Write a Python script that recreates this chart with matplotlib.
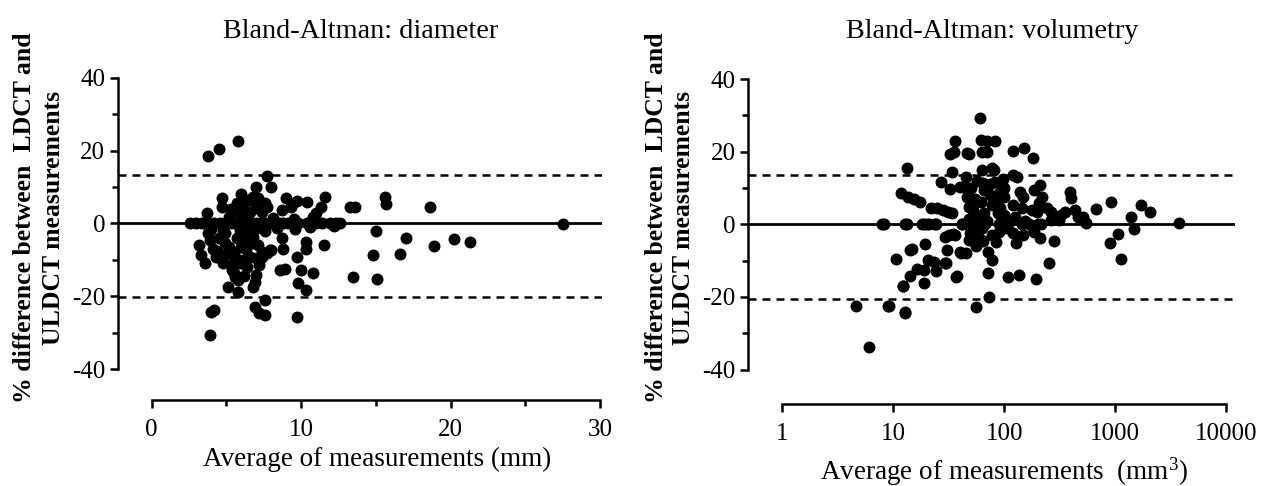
import numpy as np
import matplotlib
matplotlib.use('Agg')
import matplotlib.pyplot as plt
from matplotlib.ticker import FixedLocator, NullLocator

plt.rcParams['font.family'] = ['Liberation Serif', 'DejaVu Serif']
plt.rcParams['mathtext.fontset'] = 'custom'
plt.rcParams['mathtext.rm'] = 'Liberation Serif'
plt.rcParams['mathtext.default'] = 'regular'
plt.rcParams['axes.unicode_minus'] = False

# 直径:平均值(mm) 与 百分比差异(%)
diam_x = [2.6, 3.0, 3.4, 3.8, 4.2, 4.6, 5.0, 5.4, 5.8, 6.1, 6.4, 6.7, 7.0, 7.3, 7.6, 7.9, 8.2, 8.5,
          8.8, 9.1, 9.4, 9.8, 10.4, 11.0, 11.4, 11.9, 12.3, 12.6, 27.5,
          3.8, 4.5, 5.75, 7.7, 7.0, 8.0,
          4.7, 4.7, 3.7, 5.7, 6.1, 6.5, 6.8, 7.1, 7.6, 7.7, 5.9, 6.2, 6.6, 7.0, 7.4, 9.0, 9.7,
          10.4, 8.7, 9.3, 11.6, 11.3, 11.0, 10.8, 13.3, 13.6, 15.6, 15.7, 18.6, 6.3, 5.2, 8.1,
          9.5, 6.0, 5.3,
          4.0, 4.8, 6.9, 7.6, 8.4, 9.6, 10.6, 12.2,
          3.2, 3.3, 3.6, 3.8, 3.9, 4.1, 4.3, 4.7, 4.8, 4.9, 4.9, 5.2, 5.5, 5.6, 5.35, 5.5, 5.6,
          5.1, 5.8, 5.9, 6.1, 6.5, 6.8, 7.1, 7.4, 7.7, 7.9, 6.6, 6.1, 5.9, 7.0, 7.4, 8.0, 8.8,
          8.7, 7.0, 6.9, 6.8, 8.6, 8.9, 9.7, 10.0, 10.3, 10.3, 10.8, 11.5, 9.8, 10.3, 9.7, 6.9,
          7.2, 7.6, 7.6, 4.0, 4.2, 3.9, 5.0, 5.3, 6.3, 6.4, 6.7, 5.7, 4.5, 6.2, 7.2, 6.0, 4.4,
          5.8,
          15.0, 17.0, 14.8, 16.6, 18.9, 20.2, 21.3, 13.5, 15.1]
diam_y = [0, 0, 0, 0, 0, 0, 0, 0, 0, 0, 0, 0, 0, 0, 0, 0, 0, 0,
          0, 0, 0, 0, 0, 0, 0, 0, 0, 0, -0.2,
          18.6, 20.3, 22.6, 13.1, 10.1, 10.1,
          6.9, 4.6, 2.8, 5.5, 5.5, 6.4, 7.3, 6.9, 5.5, 4.6, 2.7, 3.7, 3.2, 4.1, 3.2, 6.9, 6.2,
          5.9, 3.7, 4.6, 7.2, 4.6, 2.9, 1.8, 4.6, 4.6, 7.3, 5.3, 4.4, 1.5, 1.8, 1.6,
          1.2, 8.0, 4.0,
          -1.5, -1.8, -1.5, -2.0, -1.2, -1.5, -1.0, -0.8,
          -6.0, -8.7, -10.8, -2.7, -4.6, -6.9, -9.2, -10.0, -10.8, -2.7, -5.5, -6.4, -7.8, -9.2,
          -12.8, -13.7, -14.7,
          -17.4, -18.8, -1.9, -4.6, -2.7, -3.7, -6.0, -7.8, -8.2, -7.3, -9.2, -10.0, -11.0, -9.6,
          -9.2, -7.3, -6.9,
          -4.1, -14.2, -16.0, -17.4, -12.8, -12.4, -9.2, -12.8, -5.0, -6.9, -13.7, -6.0, -16.5,
          -18.3, -25.6, -22.9,
          -24.7, -25.2, -21.1, -24.3, -23.8, -30.7, -8.5, -11.5, -7.0, -12.0, -5.5, -4.0, -4.0,
          -14.5, -11.5, -6.5, -7.5,
          -15.5,
          -2.0, -4.1, -8.7, -8.4, -6.2, -4.4, -5.0, -14.8, -15.3]

# 体积:平均值(mm3) 与 百分比差异(%)
vol_x = [4.6, 6.1, 8.2, 9.1, 10.6, 11.7, 13.2, 13.3, 12.3, 12.7, 14.9, 14.3, 16.4,
         13.7, 15.4, 17.3, 19.2, 18.9, 20.7, 18.9, 20.9, 24.0, 21.7, 24.6, 24.2, 26.7,
         28.2, 31.2, 33.8, 29.9, 30.5, 29.5, 33.7, 36.3, 32.6, 35.0, 32.6, 37.5, 40.9,
         31.6, 34.9, 41.5, 46.0, 43.0, 46.0, 47.7, 47.7, 60.8, 48.4, 62.1, 69.6, 83.4,
         62.8, 69.9, 62.8, 77.4, 40.0, 44.6,
         8.0, 12.9, 18.3, 20.3, 24.2, 41.5, 51.1, 67.8, 89.4, 109, 145, 168, 200,
         36.3, 49.0, 14.1, 23.4, 29.5, 40.0, 12.2, 18.9, 36.5, 8.9, 12.8,
         70.8, 77.4, 72.0, 73.2, 55.4,
         119, 152, 180, 80.2, 121, 130, 83.4, 65.2, 74.6, 89.4, 99.0, 138, 148, 184, 212,
         220, 205, 245, 262, 178, 198, 121, 145, 77.4,
         389, 403, 431, 351, 327, 462, 513, 550, 262, 312, 676, 910, 1718, 2040, 1395,
         1466, 3750, 891, 1057, 1133, 212, 278, 253, 128, 121, 148, 184, 107, 137, 194,
         50, 55, 52, 58, 62, 66, 70, 75, 88, 95, 100, 55, 60, 78, 90, 105, 48, 57, 65, 82,
         92, 98, 45, 56, 63, 85, 100, 125, 155, 180, 215, 45, 65]
vol_y = [-22.5, -33.7, 0, -22.5, -9.6, 8.7, 15.4, 0, -17.0, -24.4, -6.9, -14.2, -12.4,
         7.6, 6.9, 6.0, -5.5, -16.3, -9.8, 0, 0, 0, 4.6, 4.4, -13.0, 11.7,
         3.8, 3.4, 3.0, -10.7, -7.1, -3.4, 14.5, 22.8, 19.4, 20.0, 9.6, -14.2, -7.8,
         -2.9, -2.7, 0, 19.5, 10.4, 7.6, 4.8, -4.3, 29.2, 19.4, 23.2, 22.8, 22.8,
         20.0, 20.0, 15.0, 15.4, 10.4, 10.4,
         0, 0, 0, 0, 0, 0, 0, 0, 0, 0, 0, 0, 0,
         -3.0, -2.5, -7.1, -10.3, -10.6, -7.5, -16.9, -12.6, -14.4, -22.5, -24.1,
         -7.5, -9.8, -13.3, -20.1, -22.9,
         20.3, 20.9, 18.3, 15.0, 13.6, 12.9, 11.7, 9.4, 8.1, 8.5, 7.6, 9.0, 7.6, 9.4, 10.8,
         7.6, 5.8, 4.4, 3.5, 3.9, 3.5, 5.3, 4.4, 5.3,
         9.0, 7.2, 3.9, 3.5, 2.6, 2.1, 2.1, 0.3, 1.2, 1.2, 4.1, 6.1, 5.3, 3.5, 2.1,
         -1.4, 0.3, -5.1, -2.7, -9.6, -3.7, -4.6, -10.7, -5.2, -2.5, -2.9, -2.0, -14.4, -14.0,
         -15.2,
         10.0, 7.0, 4.0, 2.0, 6.0, 3.0, 1.0, 11.0, 3.0, 1.5, 10.0, -2.0, -4.0, -3.0, -2.0,
         -1.0, 1.5, 12.0, 11.5, 6.0, 4.5, 12.5, 13.0, -6.0, -1.0, -5.0, 2.5, 2.0, 1.0, -1.0,
         0.0, -8.0, -4.5]

diam_loa = [13.3, -20.3]
vol_loa = [13.5, -20.5]


def style_axis(ax, xbounds):
    for s in ['top', 'right']:
        ax.spines[s].set_visible(False)
    for s in ['left', 'bottom']:
        ax.spines[s].set_linewidth(1.8)
    ax.spines['left'].set_bounds(-40, 40)
    ax.spines['bottom'].set_bounds(*xbounds)
    ax.yaxis.set_major_locator(FixedLocator([-40, -20, 0, 20, 40]))
    ax.yaxis.set_minor_locator(FixedLocator([-30, -10, 10, 30]))
    ax.tick_params(which='major', length=6, width=1.8, labelsize=18, direction='out')
    ax.tick_params(which='minor', length=4, width=1.8, direction='out')
    ax.tick_params(axis='x', pad=8)
    ax.tick_params(axis='y', pad=3)


def draw_panel(ax, x, y, loa):
    ax.axhline(0, color='black', lw=2.0, zorder=2)
    for v in loa:
        ax.axhline(v, color='black', lw=1.8, dashes=(3.2, 2.4), zorder=2)
    ax.plot(x, y, 'o', color='black', ms=7.6, mec='black', zorder=3)


fig = plt.figure(figsize=(12.72, 4.86), dpi=100)

# 左图:直径
ax1 = fig.add_axes([0.0925, 0.177, 0.3805, 0.678])
draw_panel(ax1, diam_x, diam_y, diam_loa)
ax1.set_xlim(-2.27, 30.1)
ax1.set_ylim(-48.5, 42)
style_axis(ax1, (0, 30))
ax1.xaxis.set_major_locator(FixedLocator([0, 10, 20, 30]))
ax1.xaxis.set_minor_locator(FixedLocator([5, 15, 25]))

# 右图:体积(对数坐标)
ax2 = fig.add_axes([0.5883, 0.1687, 0.3826, 0.6836])
ax2.set_xscale('log')
draw_panel(ax2, vol_x, vol_y, vol_loa)
ax2.set_xlim(0.497, 11940)
ax2.set_ylim(-49.5, 42)
style_axis(ax2, (1, 10000))
ax2.xaxis.set_major_locator(FixedLocator([1, 10, 100, 1000, 10000]))
ax2.xaxis.set_minor_locator(NullLocator())
ax2.set_xticklabels(['1', '10', '100', '1000', '10000'])

# 标题与坐标轴标签
W, H = 1272.0, 486.0
fig.text(361 / W, 1 - 38 / H, 'Bland-Altman: diameter', ha='center', va='baseline', fontsize=20.3)
fig.text(992 / W, 1 - 38 / H, 'Bland-Altman: volumetry', ha='center', va='baseline', fontsize=20.3)
fig.text(377 / W, 1 - 466 / H, 'Average of measurements (mm)', ha='center', va='baseline',
         fontsize=19.5)
fig.text(1004 / W, 1 - 480 / H, 'Average of measurements  (mm$^3$)', ha='center', va='baseline',
         fontsize=19.5)
ylab = '% difference between  LDCT and\nULDCT measurements'
fig.text(39 / W, 1 - 218 / H, ylab, rotation=90, ha='center', va='center', fontsize=18.5,
         fontweight='bold', multialignment='center', linespacing=1.35)
fig.text(670 / W, 1 - 218 / H, ylab, rotation=90, ha='center', va='center', fontsize=18.5,
         fontweight='bold', multialignment='center', linespacing=1.25)

fig.savefig('out.png', dpi=100)
